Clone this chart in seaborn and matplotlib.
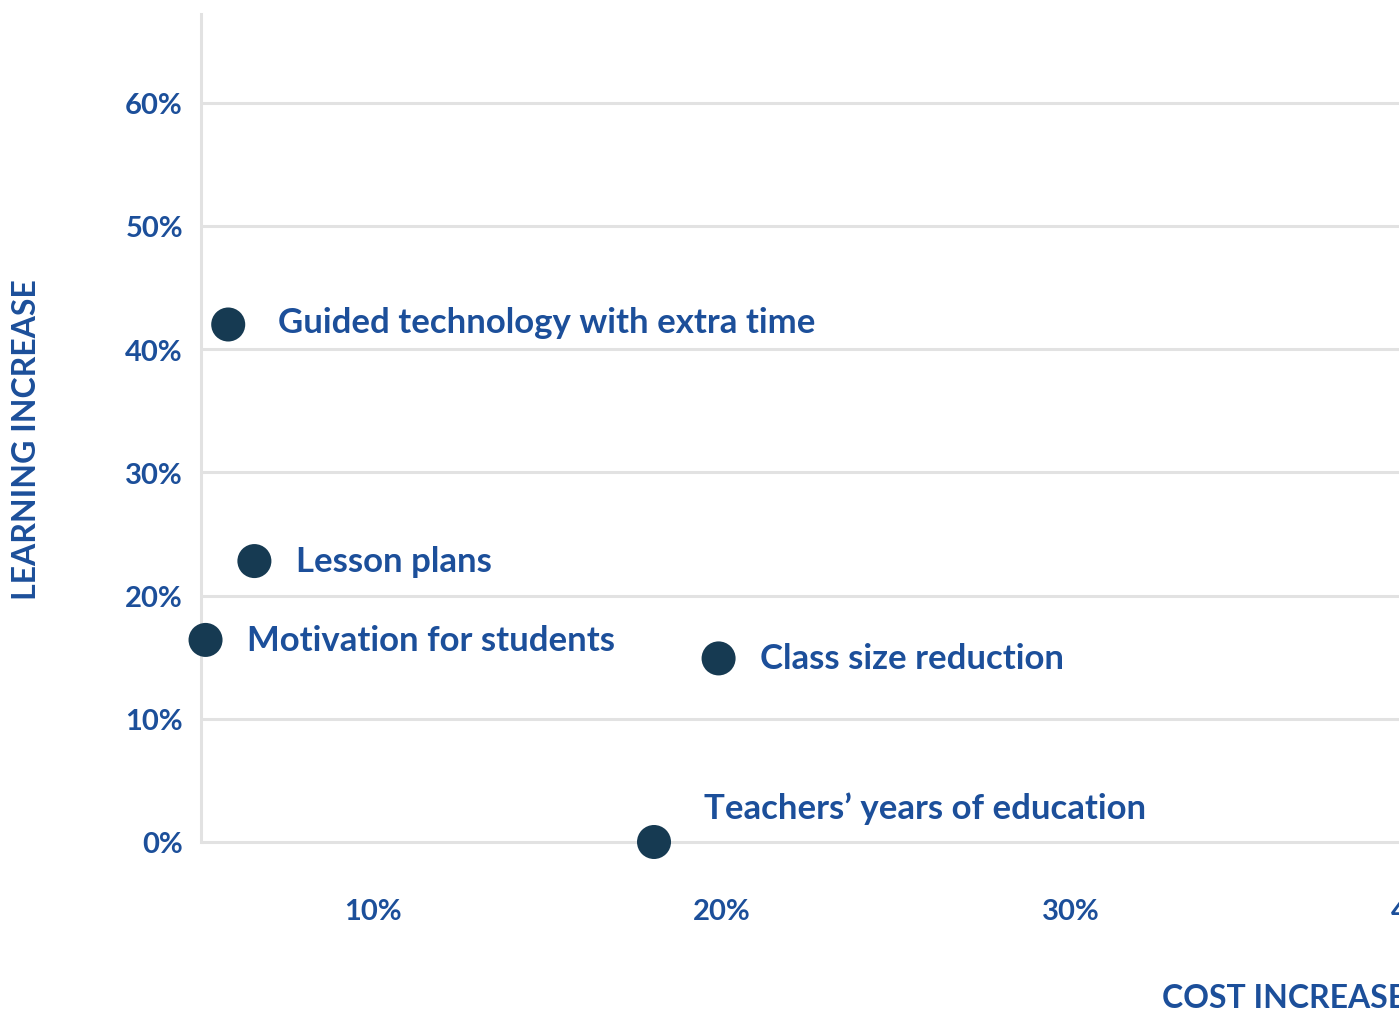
import seaborn as sns
import matplotlib.pyplot as plt
import pandas as pd

# values (percent)
labels = ["Guided technology with extra time", "Lesson plans", "Motivation for students",
          "Class size reduction", "Teachers\u2019 years of education"]
cost = [5.85, 6.6, 5.2, 19.9, 18.05]
learning = [42.0, 22.8, 16.4, 14.9, 0.0]
xticks = [10, 20, 30, 40]
yticks = [0, 10, 20, 30, 40, 50, 60]

df = pd.DataFrame({"label": labels, "cost": cost, "learning": learning})

sns.set_style("white")
plt.rcParams['font.family'] = ['Lato', 'DejaVu Sans']

blue = "#1c4f9a"
navy = "#163a52"
grid = "#e2e2e2"

fig = plt.figure(figsize=(13.99, 10.12), dpi=100)
# the chart runs past the right edge of the picture, as in the reference
ax = fig.add_axes([201 / 1399, 1 - 843 / 1012, 1254 / 1399, (843 - 15) / 1012])

sns.scatterplot(data=df, x="cost", y="learning", s=600, color=navy, edgecolor="none",
                ax=ax, clip_on=False, zorder=3)

for _, r in df.iterrows():
    if r["learning"] == 0:
        offset = (36, 25)
    elif r["learning"] > 40:
        offset = (36, 2)
    else:
        offset = (30, 0)
    ax.annotate(r["label"], (r["cost"], r["learning"]), xytext=offset,
                textcoords="offset points", fontsize=25, fontweight="bold",
                color=blue, va="center", ha="left")

ax.set_xticks(xticks)
ax.set_xticklabels([f"{t}%" for t in xticks])
ax.set_yticks(yticks)
ax.set_yticklabels([f"{t}%" for t in yticks])
ax.set_xlim(5.07, 41.0)
ax.set_ylim(0, 67.2)
ax.tick_params(axis="x", length=0, pad=40, labelsize=21, labelcolor=blue)
ax.tick_params(axis="y", length=0, pad=13, labelsize=21, labelcolor=blue)
for lab in ax.get_xticklabels() + ax.get_yticklabels():
    lab.set_fontweight("bold")

ax.grid(axis="y", color=grid, linewidth=2.2)
for gl in ax.get_ygridlines():
    gl.set_clip_on(False)
ax.set_axisbelow(True)
for side in ["top", "right", "bottom"]:
    ax.spines[side].set_visible(False)
ax.spines["left"].set_color(grid)
ax.spines["left"].set_linewidth(2.2)

ax.set_xlabel("")
ax.set_ylabel("")
fig.text(27 / 1399, 1 - 440 / 1012, "LEARNING INCREASE", rotation=90, ha="center",
         va="center", fontsize=23, fontweight="bold", color=blue)
fig.text(1162 / 1399, 1 - 999 / 1012, "COST INCREASE", ha="left", va="center",
         fontsize=23, fontweight="bold", color=blue)

fig.savefig("out.png", dpi=100)
